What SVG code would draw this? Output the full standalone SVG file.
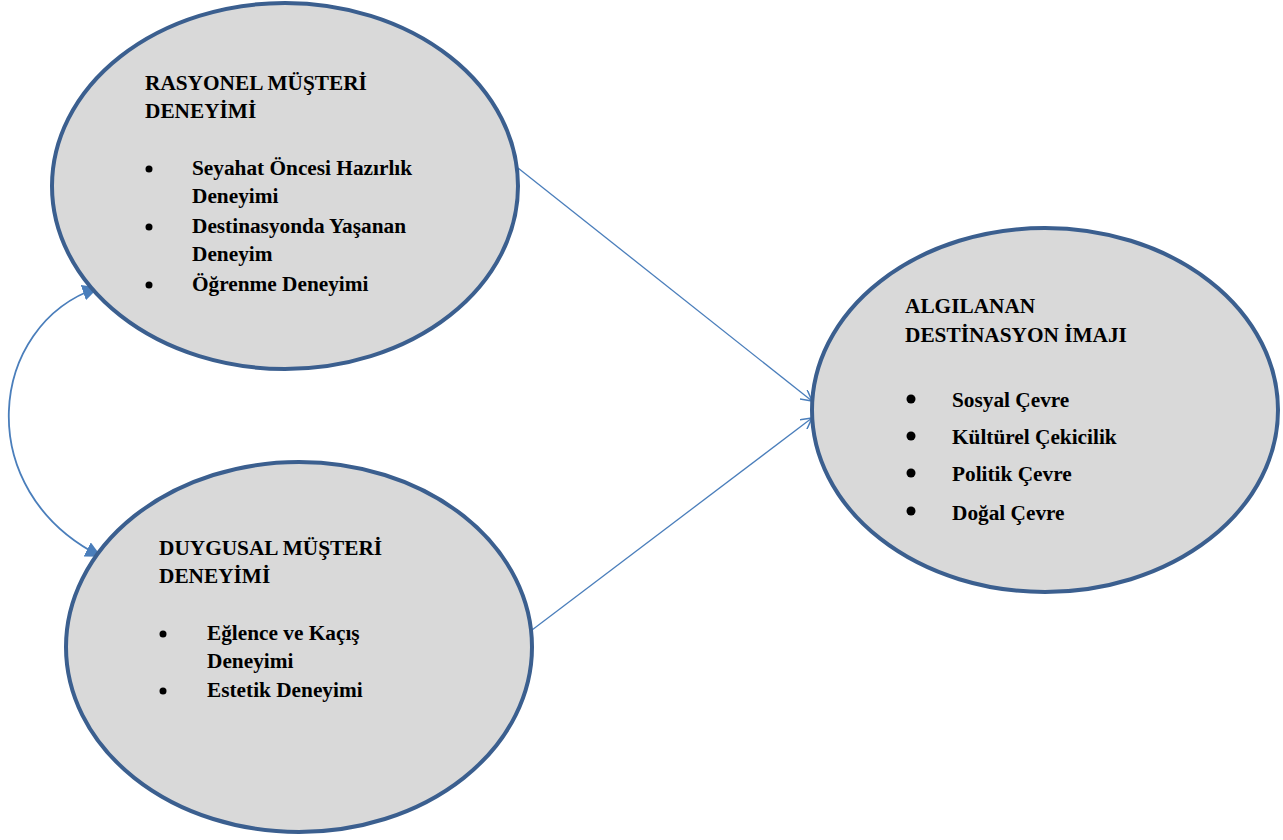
<svg xmlns="http://www.w3.org/2000/svg" width="1283" height="840" viewBox="0 0 1283 840">
  <style>
    .node { fill: #d9d9d9; stroke: #3b5f8f; stroke-width: 4; }
    .t { font-family: "Liberation Serif", Tinos, "Times New Roman", "DejaVu Serif", serif; font-weight: bold; font-size: 21.3px; fill: #000; }
    .dot { fill: #000; }
    .link { fill: none; stroke: #4a7ebb; stroke-width: 1.3; }
    .curve { fill: none; stroke: #4a7ebb; stroke-width: 1.8; }
  </style>
  <defs>
    <marker id="open" viewBox="0 0 12 12" refX="11" refY="6" markerWidth="12" markerHeight="12" markerUnits="userSpaceOnUse" orient="auto">
      <path d="M0,0 L11,6 L0,12" fill="none" stroke="#4a7ebb" stroke-width="1.5"/>
    </marker>
    <marker id="solid" viewBox="0 0 10 10" refX="9" refY="5" markerWidth="16" markerHeight="16" markerUnits="userSpaceOnUse" orient="auto-start-reverse">
      <path d="M0,0 L10,5 L0,10 Z" fill="#4a7ebb"/>
    </marker>
  </defs>

  <g id="connectors">
    <line class="link" x1="518" y1="168" x2="812" y2="401" marker-end="url(#open)"/>
    <line class="link" x1="532" y1="630" x2="812" y2="418" marker-end="url(#open)"/>
    <path class="curve" d="M97,288 C-12,325 -30,490 100,556" marker-start="url(#solid)" marker-end="url(#solid)"/>
  </g>

  <g id="rasyonel">
    <ellipse class="node" cx="285" cy="186" rx="233" ry="183"/>
    <text class="t" x="145" y="90">RASYONEL MÜŞTERİ</text>
    <text class="t" x="145" y="118">DENEYİMİ</text>
    <circle class="dot" cx="149" cy="169" r="3.5"/>
    <text class="t" x="192" y="175">Seyahat Öncesi Hazırlık</text>
    <text class="t" x="192" y="203">Deneyimi</text>
    <circle class="dot" cx="149" cy="227" r="3.5"/>
    <text class="t" x="192" y="233">Destinasyonda Yaşanan</text>
    <text class="t" x="192" y="261">Deneyim</text>
    <circle class="dot" cx="149" cy="285" r="3.5"/>
    <text class="t" x="192" y="291">Öğrenme Deneyimi</text>
  </g>

  <g id="duygusal">
    <ellipse class="node" cx="299" cy="647" rx="233" ry="185"/>
    <text class="t" x="159" y="555">DUYGUSAL MÜŞTERİ</text>
    <text class="t" x="159" y="583">DENEYİMİ</text>
    <circle class="dot" cx="163" cy="634" r="3.5"/>
    <text class="t" x="207" y="640">Eğlence ve Kaçış</text>
    <text class="t" x="207" y="668">Deneyimi</text>
    <circle class="dot" cx="163" cy="691" r="3.5"/>
    <text class="t" x="207" y="697">Estetik Deneyimi</text>
  </g>

  <g id="imaj">
    <ellipse class="node" cx="1045" cy="410" rx="233" ry="182"/>
    <text class="t" x="905" y="313">ALGILANAN</text>
    <text class="t" x="905" y="342">DESTİNASYON İMAJI</text>
    <circle class="dot" cx="911" cy="399" r="4.5"/>
    <text class="t" x="952" y="407">Sosyal Çevre</text>
    <circle class="dot" cx="911" cy="436" r="4.5"/>
    <text class="t" x="952" y="444">Kültürel Çekicilik</text>
    <circle class="dot" cx="911" cy="473" r="4.5"/>
    <text class="t" x="952" y="481">Politik Çevre</text>
    <circle class="dot" cx="911" cy="511" r="4.5"/>
    <text class="t" x="952" y="520">Doğal Çevre</text>
  </g>
</svg>
